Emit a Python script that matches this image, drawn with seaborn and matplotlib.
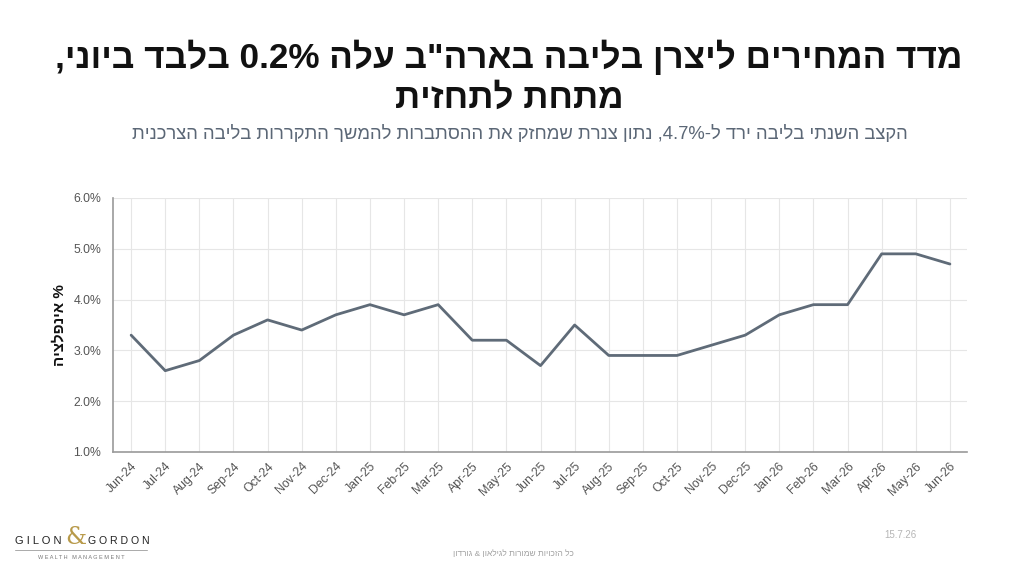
import re
import matplotlib
matplotlib.use("Agg")
import matplotlib.pyplot as plt
import seaborn as sns
import pandas as pd
from matplotlib.ticker import FuncFormatter

months = ["Jun-24", "Jul-24", "Aug-24", "Sep-24", "Oct-24", "Nov-24", "Dec-24",
          "Jan-25", "Feb-25", "Mar-25", "Apr-25", "May-25", "Jun-25", "Jul-25",
          "Aug-25", "Sep-25", "Oct-25", "Nov-25", "Dec-25", "Jan-26", "Feb-26",
          "Mar-26", "Apr-26", "May-26", "Jun-26"]
inflation = [3.3, 2.6, 2.8, 3.3, 3.6, 3.4, 3.7, 3.9, 3.7, 3.9, 3.2, 3.2, 2.7,
             3.5, 2.9, 2.9, 2.9, 3.1, 3.3, 3.7, 3.9, 3.9, 4.9, 4.9, 4.7]
y_ticks = [1.0, 2.0, 3.0, 4.0, 5.0, 6.0]

title_1 = 'מדד המחירים ליצרן בליבה בארה"ב עלה 0.2% בלבד ביוני,'
title_2 = "מתחת לתחזית"
subtitle = "הקצב השנתי בליבה ירד ל-4.7%, נתון צנרת שמחזק את ההסתברות להמשך התקררות בליבה הצרכנית"
y_label = "% אינפלציה"
footer = "כל הזכויות שמורות לגילאון & גורדון"
date_text = "15.7.26"


def rtl(s):
    r = s[::-1]
    return re.sub(r"[0-9.%]+", lambda m: m.group(0)[::-1], r)


sns.set_theme(style="white")
HEB = ["Liberation Sans", "DejaVu Sans"]
plt.rcParams["font.family"] = HEB

df = pd.DataFrame({"month": months, "value": inflation})

fig = plt.figure(figsize=(10.24, 5.76), dpi=100)
ax = fig.add_axes([0.1104, 0.2153, 0.8339, 0.441])

sns.lineplot(data=df, x="month", y="value", sort=False, ax=ax,
             color="#5f6b78", linewidth=2.0)

ax.set_xlim(-0.53, len(months) - 0.5)
ax.set_ylim(min(y_ticks), max(y_ticks))
ax.set_yticks(y_ticks)
ax.yaxis.set_major_formatter(FuncFormatter(lambda v, p: f"{v:.1f}%"))
ax.grid(True, color="#e6e6e6", linewidth=0.8)
ax.set_axisbelow(True)
for s in ["top", "right"]:
    ax.spines[s].set_visible(False)
for s in ["left", "bottom"]:
    ax.spines[s].set_color("#9a9a9a")
    ax.spines[s].set_linewidth(1.2)
ax.tick_params(axis="both", length=0, colors="#555555", labelsize=8.8)
ax.tick_params(axis="y", pad=8.5)
ax.tick_params(axis="x", pad=6)
plt.setp(ax.get_xticklabels(), rotation=45, ha="right", rotation_mode="anchor")
ax.set_xlabel("")
ax.set_ylabel(rtl(y_label), fontsize=11, fontweight="bold", color="#111111",
              labelpad=4.7)

fig.text(0.497, 0.901, rtl(title_1), ha="center", va="center", fontsize=25.3,
         fontweight="bold", color="#111111")
fig.text(0.497, 0.829, rtl(title_2), ha="center", va="center", fontsize=25.3,
         fontweight="bold", color="#111111")
fig.text(0.508, 0.767, rtl(subtitle), ha="center", va="center", fontsize=13.3,
         color="#5b6776")

# footer
fig.text(0.879, 0.072, date_text, ha="center", va="center", fontsize=7,
         color="#b5b5b5")
fig.text(0.501, 0.038, rtl(footer), ha="center", va="center", fontsize=6,
         color="#a0a0a0")

# logo
fig.text(0.0146, 0.061, "G I L O N", ha="left", va="center", fontsize=8,
         color="#222222")
fig.text(0.0735, 0.066, "&", ha="center", va="center", fontsize=17,
         color="#b89a4a", family="DejaVu Serif")
fig.text(0.086, 0.061, "G O R D O N", ha="left", va="center", fontsize=7.6,
         color="#222222")
fig.add_artist(plt.Line2D([0.0146, 0.144], [0.045, 0.045], color="#aaaaaa",
                          linewidth=0.7, transform=fig.transFigure))
fig.text(0.079, 0.032, "W E A L T H   M A N A G E M E N T", ha="center",
         va="center", fontsize=4.0, color="#777777")

fig.savefig("out.png", dpi=100)
